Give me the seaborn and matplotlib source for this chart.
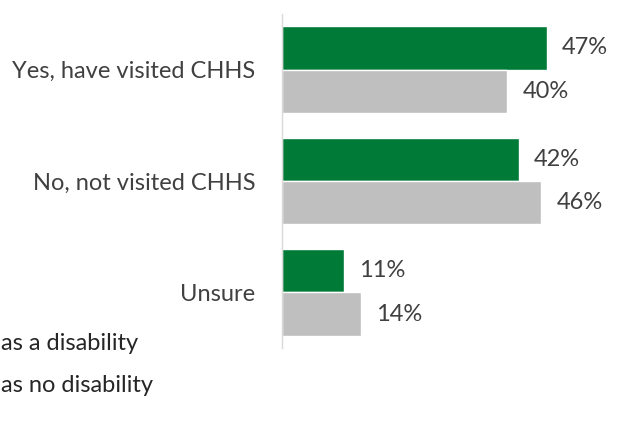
import numpy as np
import pandas as pd
import matplotlib.pyplot as plt
import seaborn as sns

# data
categories = ["Yes, have visited CHHS", "No, not visited CHHS", "Unsure"]
groups = ["Has a disability", "Has no disability"]
# the reference image crops the legend on the left, only this part shows
legend_visible = ["as a disability", "as no disability"]
has_disability = [47, 42, 11]
no_disability = [40, 46, 14]

df = pd.DataFrame({
    "answer": categories * 2,
    "group": [groups[0]] * 3 + [groups[1]] * 3,
    "pct": has_disability + no_disability,
})

sns.set_style("white")
plt.rcParams["font.family"] = ["Lato", "DejaVu Sans"]

text_col = "#404040"
palette = {groups[0]: "#007A37", groups[1]: "#BFBFBF"}

fig = plt.figure(figsize=(6.2, 4.25), dpi=100)
ax = fig.add_axes([282 / 620, 1 - 348 / 425, 338 / 620, 334 / 425])

sns.barplot(data=df, y="answer", x="pct", hue="group", palette=palette,
            orient="h", width=0.78, saturation=1, ax=ax, legend=False)

for cont in ax.containers:
    ax.bar_label(cont, labels=[f"{v:.0f}%" for v in cont.datavalues],
                 padding=11, fontsize=17, color=text_col)

ax.set_xlim(0, 60)
ax.set_ylim(2.5, -0.5)
ax.set_xlabel("")
ax.set_ylabel("")
ax.set_xticks([])
ax.tick_params(axis="y", length=0, pad=19, labelsize=17, labelcolor=text_col)

for s in ["top", "right", "bottom"]:
    ax.spines[s].set_visible(False)
ax.spines["left"].set_color("#D9D9D9")
ax.spines["left"].set_linewidth(1)

# legend text (cropped fragment, as in the reference)
fig.text(1 / 620, 1 - 343 / 425, legend_visible[0], ha="left", va="center",
         fontsize=17, color="#262626")
fig.text(1 / 620, 1 - 385 / 425, legend_visible[1], ha="left", va="center",
         fontsize=17, color="#262626")

fig.savefig("out.png", dpi=100)
